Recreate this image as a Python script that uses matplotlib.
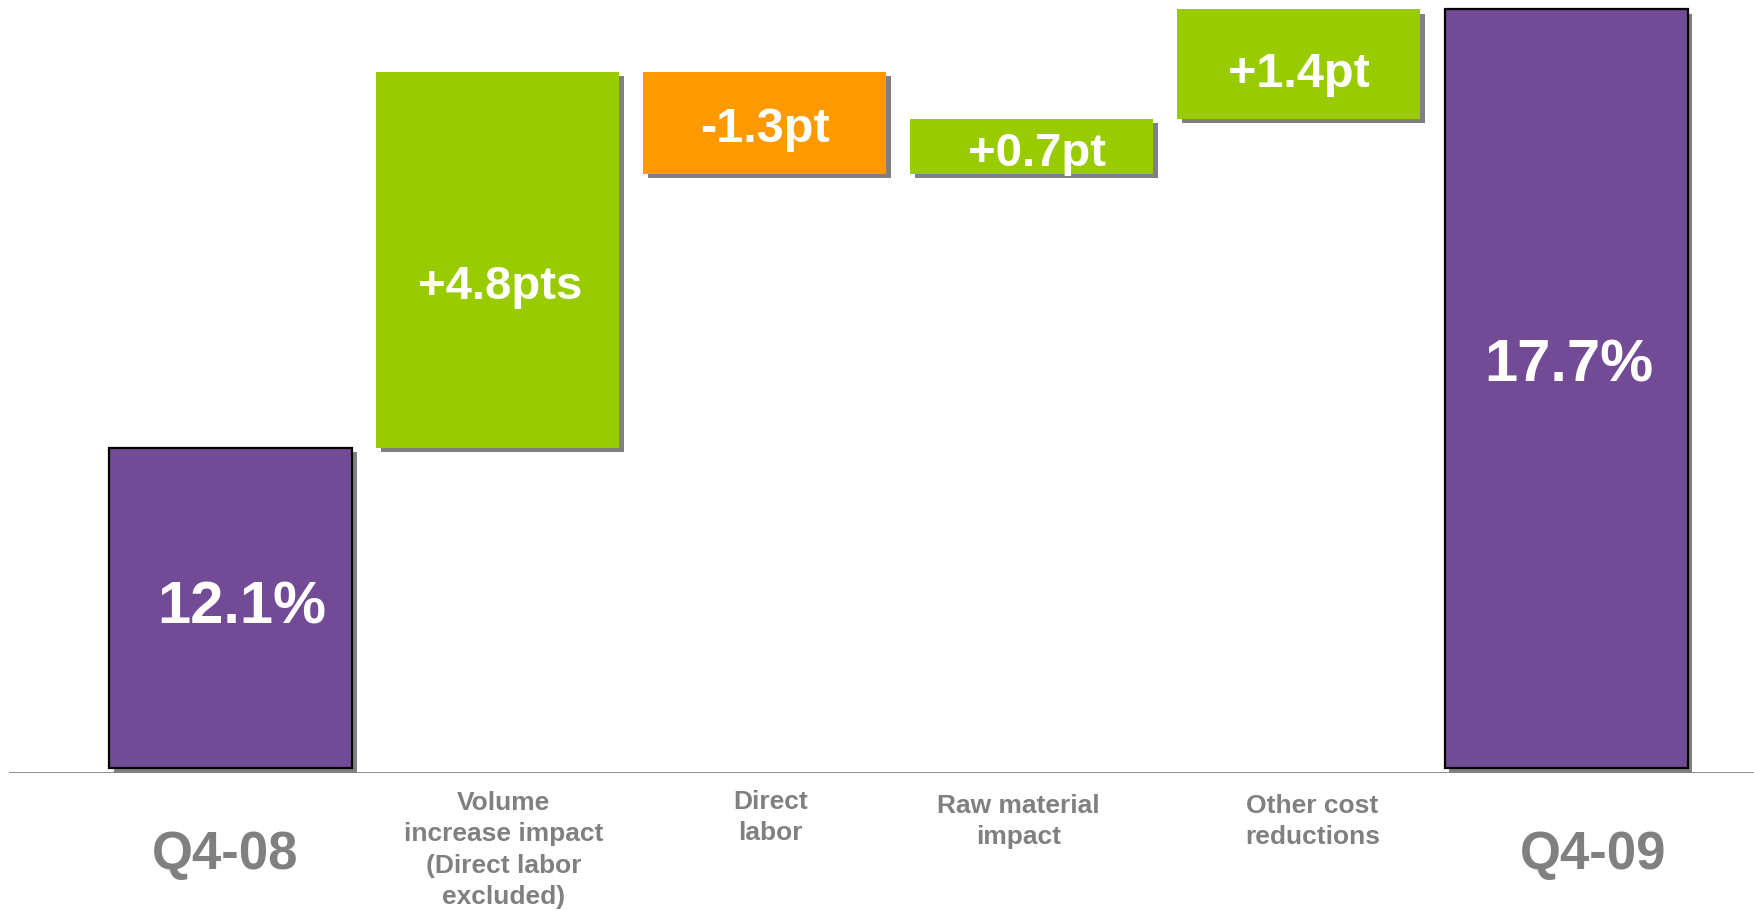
import matplotlib
matplotlib.use("Agg")
import matplotlib.pyplot as plt
import matplotlib.transforms as mtransforms
import numpy as np

# data
start_value = 12.1
end_value = 17.7
deltas = [4.8, -1.3, 0.7, 1.4]
value_labels = ["12.1%", "+4.8pts", "-1.3pt", "+0.7pt", "+1.4pt", "17.7%"]
categories = ["Q4-08",
              "Volume\nincrease impact\n(Direct labor\nexcluded)",
              "Direct\nlabor",
              "Raw material\nimpact",
              "Other cost\nreductions",
              "Q4-09"]

PURPLE = "#734A96"
GREEN = "#99CC00"
ORANGE = "#FF9900"
GRAY = "#808080"
axis_base = 8.0

plt.rcParams['font.family'] = ['Liberation Sans', 'DejaVu Sans']

fig = plt.figure(figsize=(17.54, 9.11), dpi=100)
ax = fig.add_axes([9 / 1754, 138 / 911, 1745 / 1754, 773 / 911])

# waterfall geometry
levels = np.concatenate([[start_value], start_value + np.cumsum(deltas)])
bottoms = [axis_base]
heights = [start_value - axis_base]
colors = [PURPLE]
for i, d in enumerate(deltas):
    lo = min(levels[i], levels[i + 1])
    bottoms.append(lo)
    heights.append(abs(d))
    colors.append(GREEN if d > 0 else ORANGE)
bottoms.append(axis_base)
heights.append(end_value - axis_base)
colors.append(PURPLE)
x = np.arange(len(categories))
edges = ["black" if c == PURPLE else "none" for c in colors]

# drop shadows
shadow = ax.transData + mtransforms.ScaledTranslation(4.5 / 100, -4.5 / 100, fig.dpi_scale_trans)
ax.bar(x, heights, bottom=bottoms, width=0.91, color=GRAY, transform=shadow, zorder=1)
ax.bar(x, heights, bottom=bottoms, width=0.91, color=colors, edgecolor=edges,
       linewidth=1.6, zorder=2)

ax.axhline(7.94, color=GRAY, linewidth=2, zorder=1.5)

# value labels
sizes = [43, 34, 35, 34, 35, 43]
yoff = [0, -0.35, -0.085, -0.1, -0.13, 0.29]
xoff = [0.04, 0.01, 0.0, 0.02, 0.0, 0.01]
for i in range(len(x)):
    ax.text(x[i] + xoff[i], bottoms[i] + heights[i] / 2 + yoff[i], value_labels[i],
            ha="center", va="center", color="white", fontsize=sizes[i],
            fontweight="bold", zorder=3)

# category labels
lab = mtransforms.blended_transform_factory(ax.transData, ax.transAxes)
for i, cat in enumerate(categories):
    if cat.startswith("Q4"):
        ax.text(x[i] - 0.02 + 0.12 * (i == 5), -0.106, cat, transform=lab, ha="center",
                va="center", color=GRAY, fontsize=38, fontweight="bold")
    else:
        dx = {1: 0.02, 2: 0.02, 3: -0.05, 4: 0.05}[i]
        dy = {1: -0.023, 2: -0.022, 3: -0.027, 4: -0.027}[i]
        ax.text(x[i] + dx, dy, cat, transform=lab, ha="center", va="top",
                color=GRAY, fontsize=19, fontweight="bold", linespacing=1.39)

ax.set_xlim(-0.831, 5.704)
ax.set_ylim(7.94, 17.82)
ax.axis("off")

fig.savefig("out.png", dpi=100)
